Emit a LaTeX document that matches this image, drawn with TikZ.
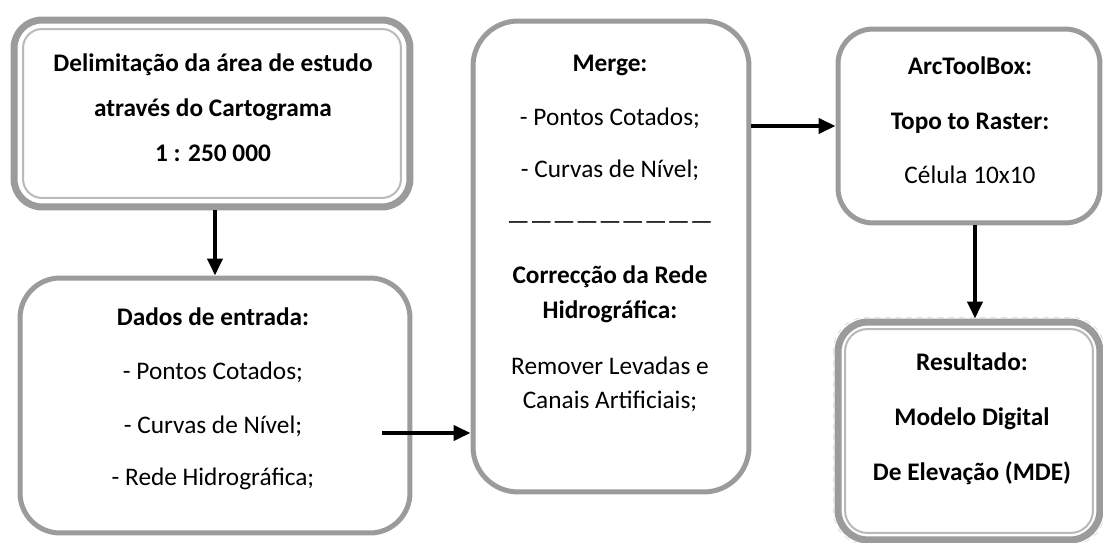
\documentclass[tikz,border=0pt]{standalone}
\usepackage{fontspec}
\setmainfont{Carlito}
\usetikzlibrary{arrows.meta}
\definecolor{cinza}{RGB}{155,155,155}
\definecolor{cinzaclaro}{RGB}{185,185,185}

\begin{document}
\begin{tikzpicture}[x=0.02cm, y=-0.02cm,
  caixa/.style ={draw=cinza, line width=0.1cm, fill=white},
  fina/.style ={draw=cinzaclaro, line width=0.04cm},
  texto/.style ={align=center, inner sep=0pt, font=\fontsize{14.4}{17.3}\selectfont},
  seta/.style ={line width=0.08cm, ->},
  >={Triangle[length=0.34cm, width=0.3cm]}]
 \useasboundingbox (0,0) rectangle (1103,543);

 % caixas
 \node[caixa, line width=0.14cm, rounded corners=0.56cm, minimum width=7.92cm, minimum height=3.74cm] (A) at (212,113.5) {};
 \node[caixa, rounded corners=0.8cm, minimum width=7.8cm, minimum height=5.1cm] (B) at (215,405.5) {};
 \node[caixa, rounded corners=0.9cm, minimum width=5.52cm, minimum height=9.42cm] (C) at (611,256.5) {};
 \node[caixa, rounded corners=0.7cm, minimum width=5.24cm, minimum height=3.88cm] (D) at (969,126) {};
 \node[caixa, line width=0.14cm, rounded corners=0.6cm, minimum width=5.24cm, minimum height=4.36cm] (E) at (969,431) {};

 % linhas interiores
 \draw[fina, rounded corners=0.38cm] ([shift={(12.5,12.5)}]A.north west) rectangle ([shift={(-12.5,-12.5)}]A.south east);
 \draw[fina, rounded corners=0.45cm] ([shift={(10.5,10.5)}]E.north west) rectangle ([shift={(-10.5,-10.5)}]E.south east);
 \draw[black!12, dashed, line width=0.02cm, rounded corners=0.65cm] ([shift={(-1,-1)}]E.north west) rectangle ([shift={(1,1)}]E.south east);

 % textos
 \node[texto] (Atxt) at (213,108) {\textbf{Delimitação da área de estudo}\\[0.29cm]\textbf{através do Cartograma}\\[0.29cm]\textbf{1 : 250 000}};
 \node[texto] (Btxt) at (213,399) {\textbf{Dados de entrada:}\\[0.47cm]- Pontos Cotados;\\[0.47cm]- Curvas de Nível;\\[0.43cm]- Rede Hidrográfica;};
 \node[texto] (Ctxt) at (610,233.5) {\textbf{Merge:}\\[0.47cm]- Pontos Cotados;\\[0.43cm]- Curvas de Nível;\\[0.43cm]—————————\\[0.47cm]\textbf{Correcção da Rede}\\[0.11cm]\textbf{Hidrográfica:}\\[0.51cm]Remover Levadas e\\[0.07cm]Canais Artificiais;};
 \node[texto] (Dtxt) at (970,120.5) {\textbf{ArcToolBox:}\\[0.49cm]\textbf{Topo to Raster:}\\[0.47cm]Célula 10x10};
 \node[texto] (Etxt) at (972,419) {\textbf{Resultado:}\\[0.49cm]\textbf{Modelo Digital}\\[0.49cm]\textbf{De Elevação (MDE)}};

 % setas
 \coordinate (bc) at ([shift={(-30,27.5)}]B.east);
 \draw[seta] (A.south -| B.north) -- (B.north);
 \draw[seta] (bc) -- (bc -| C.west);
 \draw[seta] (C.east |- D.west) -- (D.west);
 \draw[seta] ([shift={(6,0)}]D.south) -- ([shift={(6,0)}]D.south |- E.north);
\end{tikzpicture}
\end{document}
